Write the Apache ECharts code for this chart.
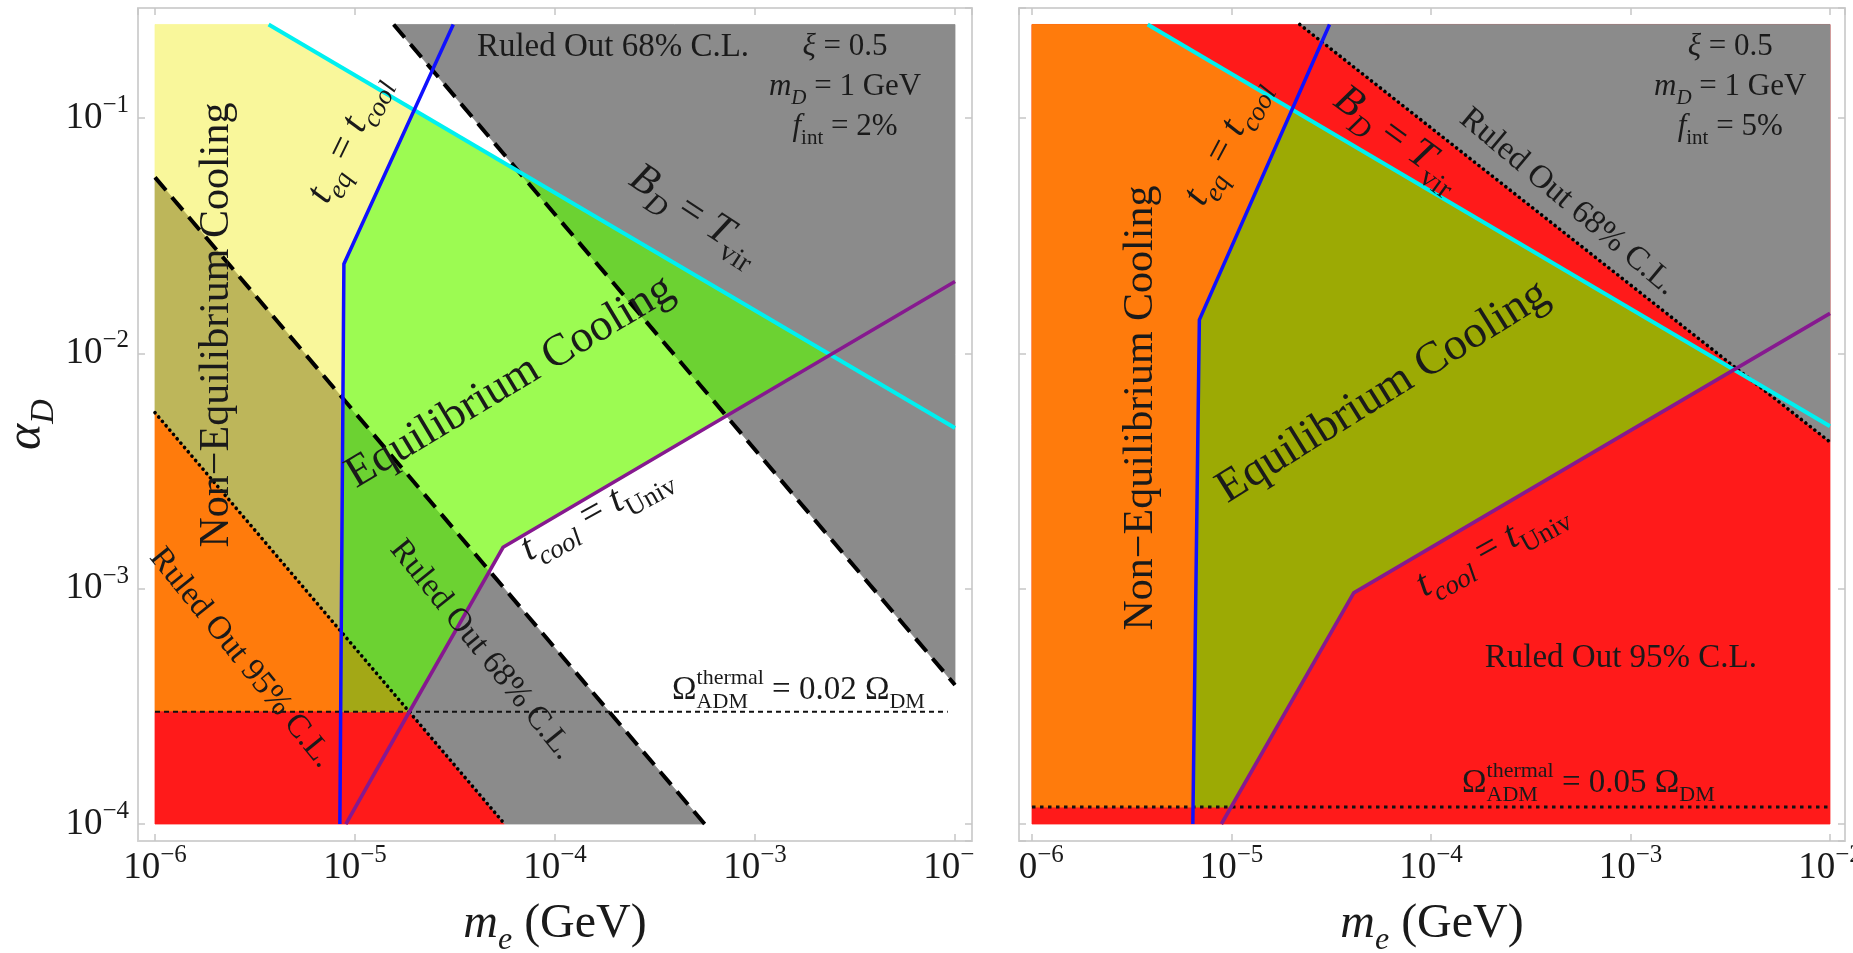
<!DOCTYPE html>
<html><head><meta charset="utf-8">
<script src="https://cdn.jsdelivr.net/npm/echarts@6/dist/echarts.min.js"></script>
<style>html,body{margin:0;padding:0;background:#fff}#c{width:1853px;height:953px}</style>
</head><body><div id="c"></div>
<script>
// ---------------- DATA (x = m_e in GeV, y = alpha_D) ----------------
const xTickExponents = [-6, -5, -4, -3, -2];
const yTickExponents = [-4, -3, -2, -1];

// Left panel, f_int = 2%
const L_cyan      = [[3.7e-6, 0.25], [1e-2, 4.82e-3]];
const L_blue      = [[8.4e-6, 1e-4], [8.8e-6, 0.024], [3.1e-5, 0.25]];
const L_purple    = [[9.0e-6, 1e-4], [1.87e-5, 3e-4], [5.5e-5, 1.5e-3], [1e-2, 0.0202]];
const L_cl95      = [[1e-6, 5.6e-3], [5.6e-5, 1e-4]];
const L_cl68low   = [[1e-6, 0.056], [5.6e-4, 1e-4]];
const L_cl68high  = [[1.56e-5, 0.25], [1e-2, 3.9e-4]];
const L_omega     = [[1e-6, 3e-4], [9.2e-3, 3e-4]];

const L_yellow      = [[1e-6, 0.25], [3.7e-6, 0.25], [1.98e-5, 0.108], [8.8e-6, 0.024], [8.7e-6, 6.43e-3], [1e-6, 0.056]];
const L_khaki       = [[1e-6, 0.056], [8.7e-6, 6.43e-3], [8.53e-6, 6.56e-4], [1e-6, 5.6e-3]];
const L_orange      = [[1e-6, 5.6e-3], [8.53e-6, 6.56e-4], [8.48e-6, 3e-4], [1e-6, 3e-4]];
const L_red         = [[1e-6, 3e-4], [1.87e-5, 3e-4], [5.6e-5, 1e-4], [1e-6, 1e-4]];
const L_olive       = [[8.48e-6, 3e-4], [8.53e-6, 6.56e-4], [1.87e-5, 3e-4]];
const L_greenMidLow = [[8.53e-6, 6.56e-4], [8.7e-6, 6.43e-3], [4.69e-5, 1.19e-3], [1.87e-5, 3e-4]];
const L_greenLight  = [[8.7e-6, 6.43e-3], [8.8e-6, 0.024], [1.98e-5, 0.108], [6.55e-5, 0.0596], [7.19e-4, 5.42e-3], [5.5e-5, 1.5e-3], [4.69e-5, 1.19e-3]];
const L_grayHigh    = [[1.56e-5, 0.25], [1e-2, 0.25], [1e-2, 3.9e-4]];
const L_greenMidHigh= [[6.55e-5, 0.0596], [2.38e-3, 9.87e-3], [7.19e-4, 5.42e-3]];
const L_grayLow     = [[1.87e-5, 3e-4], [4.69e-5, 1.19e-3], [5.6e-4, 1e-4], [5.6e-5, 1e-4]];

// Right panel, f_int = 5%
const R_cyan   = [[3.8e-6, 0.25], [1e-2, 4.9e-3]];
const R_blue   = [[6.4e-6, 1e-4], [6.9e-6, 0.0139], [3.1e-5, 0.25]];
const R_purple = [[8.9e-6, 1e-4], [4.1e-5, 9.6e-4], [1e-2, 0.0148]];
const R_cl68   = [[2.2e-5, 0.25], [1e-2, 4.2e-3]];
const R_omega  = [[1e-6, 1.18e-4], [1e-2, 1.18e-4]];

const R_red    = [[1e-6, 1e-4], [1e-2, 1e-4], [1e-2, 0.25], [1e-6, 0.25]];
const R_gray   = [[2.2e-5, 0.25], [1e-2, 0.25], [1e-2, 4.2e-3]];
const R_orange = [[1e-6, 0.25], [3.8e-6, 0.25], [2.01e-5, 0.109], [6.9e-6, 0.0139], [6.41e-6, 1.18e-4], [1e-6, 1.18e-4]];
const R_olive  = [[6.41e-6, 1.18e-4], [6.9e-6, 0.0139], [2.01e-5, 0.109], [3.25e-3, 8.55e-3], [4.1e-5, 9.6e-4], [9.95e-6, 1.18e-4]];

// Text labels (anchors in data coordinates)
const leftLabels = [
  {text: '{r|Ruled Out 68% C.L.}', at: [1.95e-4, 0.2], rot: 0, size: 33},
  {text: '{i|ξ}{r| = 0.5}', at: [2.82e-3, 0.2], rot: 0, size: 31},
  {text: '{i|m}{si|D}{r| = 1 GeV}', at: [2.82e-3, 0.1355], rot: 0, size: 31},
  {text: '{i|f}{sr|int}{r| = 2%}', at: [2.82e-3, 0.0916], rot: 0, size: 31},
  {text: '{i|B}{si|D}{r| = }{i|T}{sr|vir}', at: [5.0e-4, 0.039], rot: -33, size: 42},
  {text: '{r|Equilibrium Cooling}', at: [5.96e-5, 7.55e-3], rot: 31, size: 45},
  {text: '{r|Non−Equilibrium Cooling}', at: [2.04e-6, 0.0132], rot: 90, size: 42},
  {text: '{i|t}{si|eq}{r| = }{i|t}{si|cool}', at: [9.2e-6, 0.0815], rot: 64, size: 40},
  {text: '{i|t}{si|cool}{r| = }{i|t}{sr|Univ}', at: [1.6e-4, 2.12e-3], rot: 29, size: 40},
  {text: '{r|Ruled Out 68% C.L.}', at: [4.3e-5, 5.5e-4], rot: -51, size: 33},
  {text: '{r|Ruled Out 95% C.L.}', at: [2.7e-6, 5.08e-4], rot: -51, size: 33}
];
const rightLabels = [
  {text: '{i|ξ}{r| = 0.5}', at: [3.16e-3, 0.2], rot: 0, size: 31},
  {text: '{i|m}{si|D}{r| = 1 GeV}', at: [3.16e-3, 0.1355], rot: 0, size: 31},
  {text: '{i|f}{sr|int}{r| = 5%}', at: [3.16e-3, 0.0916], rot: 0, size: 31},
  {text: '{i|B}{si|D}{r| = }{i|T}{sr|vir}', at: [6.8e-5, 0.0822], rot: -36, size: 42},
  {text: '{r|Ruled Out 68% C.L.}', at: [4.87e-4, 0.044], rot: -40, size: 33},
  {text: '{i|t}{si|eq}{r| = }{i|t}{si|cool}', at: [9.38e-6, 0.079], rot: 62, size: 40},
  {text: '{r|Equilibrium Cooling}', at: [5.74e-5, 6.86e-3], rot: 32, size: 46},
  {text: '{r|Non−Equilibrium Cooling}', at: [3.51e-6, 5.86e-3], rot: 90, size: 42},
  {text: '{i|t}{si|cool}{r| = }{i|t}{sr|Univ}', at: [2.0e-4, 1.49e-3], rot: 29, size: 40},
  {text: '{r|Ruled Out 95% C.L.}', at: [8.95e-4, 5.08e-4], rot: 0, size: 33}
];
const omegaLabels = [
  {grid: 0, value: '0.02', at: [3.85e-4, 3.71e-4], size: 33},
  {grid: 1, value: '0.05', at: [1.43e-4, 1.49e-4], size: 33}
];

// ---------------- STYLE / LAYOUT ----------------
const SERIF = "'Liberation Serif','DejaVu Serif','Times New Roman',serif";
const TXT = '#1a1a1a';
const C = {
  yellow: '#f9f79b', khaki: '#bdb65a', orange: '#ff7b0c', red: '#ff1a1a',
  olive: '#a3a816', oliveR: '#9caa04', green: '#9cfb52', greenMid: '#6cd232',
  gray: '#8b8b8b', cyan: '#00f0f0', blue: '#1010ff', purple: '#86198f'
};

function richFor(S, color) {
  const sub = Math.round(S * 0.68);
  const main = Math.round(S * 1.4);
  const base = {fontFamily: SERIF, fill: color, color: color};
  return {
    r:  Object.assign({}, base, {fontSize: S, lineHeight: main}),
    i:  Object.assign({}, base, {fontSize: S, lineHeight: main, fontStyle: 'italic'}),
    g:  Object.assign({}, base, {fontSize: S, lineHeight: main, fill: 'rgba(0,0,0,0)', color: 'rgba(0,0,0,0)'}),
    si: Object.assign({}, base, {fontSize: sub, lineHeight: sub, fontStyle: 'italic', verticalAlign: 'bottom'}),
    sr: Object.assign({}, base, {fontSize: sub, lineHeight: sub, verticalAlign: 'bottom'}),
    sp: Object.assign({}, base, {fontSize: sub, lineHeight: sub, verticalAlign: 'top'})
  };
}

function tickFormatter(list) {
  return function (v) {
    const e = Math.log10(v), r = Math.round(e);
    if (Math.abs(e - r) > 1e-6 || list.indexOf(r) < 0) return '';
    return '{b|10}{s|' + (r < 0 ? '−' : '') + Math.abs(r) + '}';
  };
}
const tickRich = {
  b: {fontFamily: SERIF, fontSize: 37, lineHeight: 50, color: TXT},
  s: {fontFamily: SERIF, fontSize: 25, lineHeight: 25, verticalAlign: 'top', color: TXT}
};

const X_RANGE = [[-6.085, -1.915], [-6.0652, -1.9248]];
const Y_RANGE = [-4.0722, -0.532];

function makeAxis(kind, gridIndex, position, range, showLabels, list) {
  return {
    type: 'log', logBase: 10, gridIndex: gridIndex, position: position,
    min: Math.pow(10, range[0]), max: Math.pow(10, range[1]),
    axisLine: {show: true, onZero: false, lineStyle: {color: '#d2d2d2', width: 2}},
    axisTick: {show: true, inside: true, length: 7, lineStyle: {color: '#c6c6c6', width: 1.5}},
    splitLine: {show: false}, minorTick: {show: false}, minorSplitLine: {show: false},
    axisLabel: {show: showLabels, interval: 0, showMinLabel: false, showMaxLabel: false,
      formatter: tickFormatter(list), rich: tickRich,
      margin: kind === 'x' ? 2 : 9}
  };
}

const xAxes = [
  makeAxis('x', 0, 'bottom', X_RANGE[0], true, xTickExponents),
  makeAxis('x', 0, 'top', X_RANGE[0], false, xTickExponents),
  makeAxis('x', 1, 'bottom', X_RANGE[1], true, xTickExponents),
  makeAxis('x', 1, 'top', X_RANGE[1], false, xTickExponents)
];
function xName() {
  return {
    name: '{i|m}{s|e}{r| (GeV)}', nameLocation: 'middle', nameGap: 50,
    nameTextStyle: {fontFamily: SERIF, fontSize: 48, color: TXT, rich: {
      i: {fontFamily: SERIF, fontSize: 48, lineHeight: 66, fontStyle: 'italic', color: TXT},
      r: {fontFamily: SERIF, fontSize: 48, lineHeight: 66, color: TXT},
      s: {fontFamily: SERIF, fontSize: 32, lineHeight: 32, fontStyle: 'italic', verticalAlign: 'bottom', color: TXT}
    }}
  };
}
Object.assign(xAxes[0], xName());
Object.assign(xAxes[2], xName());

const yAxes = [
  makeAxis('y', 0, 'left', Y_RANGE, true, yTickExponents),
  makeAxis('y', 0, 'right', Y_RANGE, false, yTickExponents),
  makeAxis('y', 1, 'left', Y_RANGE, false, yTickExponents),
  makeAxis('y', 1, 'right', Y_RANGE, false, yTickExponents)
];
Object.assign(yAxes[0], {
  name: '{i|α}{s|D}', nameLocation: 'middle', nameGap: 72, nameRotate: 90,
  nameTextStyle: {fontFamily: SERIF, fontSize: 50, color: TXT, rich: {
    i: {fontFamily: SERIF, fontSize: 50, lineHeight: 70, fontStyle: 'italic', color: TXT},
    s: {fontFamily: SERIF, fontSize: 34, lineHeight: 34, fontStyle: 'italic', verticalAlign: 'bottom', color: TXT}
  }}
});

let zc = 1;
function poly(pts, color, g) {
  return {
    type: 'custom', xAxisIndex: g * 2, yAxisIndex: g * 2, data: pts, silent: true,
    animation: false, z: zc++, clip: false,
    renderItem: function (params, api) {
      if (params.dataIndex !== 0) return null;
      const points = pts.map(function (p) { return api.coord(p); });
      return {type: 'polygon', shape: {points: points}, style: {fill: color, stroke: color, lineWidth: 0.8}};
    }
  };
}
function line(pts, color, width, type, cap, g) {
  return {
    type: 'line', xAxisIndex: g * 2, yAxisIndex: g * 2, data: pts, showSymbol: false, symbol: 'none',
    silent: true, animation: false, z: 50, clip: false,
    lineStyle: {color: color, width: width, type: type, cap: cap || 'butt', join: 'miter'}
  };
}

const DASH = [17, 9], DOT = [0.1, 5.6], SHORT = [5, 4];
const series = [
  poly(L_yellow, C.yellow, 0), poly(L_khaki, C.khaki, 0), poly(L_orange, C.orange, 0),
  poly(L_red, C.red, 0), poly(L_olive, C.olive, 0), poly(L_greenMidLow, C.greenMid, 0),
  poly(L_greenLight, C.green, 0), poly(L_grayHigh, C.gray, 0), poly(L_greenMidHigh, C.greenMid, 0),
  poly(L_grayLow, C.gray, 0),
  poly(R_red, C.red, 1), poly(R_gray, C.gray, 1), poly(R_orange, C.orange, 1), poly(R_olive, C.oliveR, 1),

  line(L_omega, '#111', 2.2, SHORT, 'butt', 0),
  line(L_cl95, '#000', 3.6, DOT, 'round', 0),
  line(L_cl68low, '#000', 4, DASH, 'butt', 0),
  line(L_cl68high, '#000', 4, DASH, 'butt', 0),
  line(L_cyan, C.cyan, 4, 'solid', 'butt', 0),
  line(L_purple, C.purple, 3.6, 'solid', 'butt', 0),
  line(L_blue, C.blue, 3.5, 'solid', 'butt', 0),

  line(R_omega, '#111', 3, [3.5, 4.5], 'butt', 1),
  line(R_cl68, '#000', 3.6, DOT, 'round', 1),
  line(R_cyan, C.cyan, 4, 'solid', 'butt', 1),
  line(R_purple, C.purple, 3.6, 'solid', 'butt', 1),
  line(R_blue, C.blue, 3.5, 'solid', 'butt', 1)
];

const option = {
  backgroundColor: '#ffffff',
  animation: false,
  grid: [
    {left: 138, top: 8, width: 834, height: 833, containLabel: false, outerBoundsMode: 'none'},
    {left: 1019, top: 8, width: 826, height: 833, containLabel: false, outerBoundsMode: 'none'}
  ],
  xAxis: xAxes,
  yAxis: yAxes,
  series: series
};

const chart = echarts.init(document.getElementById('c'), null, {renderer: 'canvas'});
chart.setOption(option);

// annotations positioned through the axes' scales
function toPx(g, p) { return chart.convertToPixel({xAxisIndex: g * 2, yAxisIndex: g * 2}, p); }
const graphics = [];
[[leftLabels, 0], [rightLabels, 1]].forEach(function (pair) {
  pair[0].forEach(function (lb) {
    const p = toPx(pair[1], lb.at);
    graphics.push({
      type: 'text', x: p[0], y: p[1], rotation: (lb.rot || 0) * Math.PI / 180, z: 100, silent: true,
      style: {text: lb.text, rich: richFor(lb.size, TXT), fontFamily: SERIF, fontSize: lb.size,
        fill: TXT, align: 'center', verticalAlign: 'middle'}
    });
  });
});
omegaLabels.forEach(function (o) {
  const p = toPx(o.grid, o.at);
  graphics.push({
    type: 'text', x: p[0], y: p[1], z: 100, silent: true,
    style: {text: '{r|Ω}{sp|thermal}{r| = ' + o.value + ' Ω}{sr|DM}', rich: richFor(o.size, TXT),
      fontFamily: SERIF, fontSize: o.size, fill: TXT, align: 'left', verticalAlign: 'middle'}
  });
  graphics.push({
    type: 'text', x: p[0], y: p[1], z: 100, silent: true,
    style: {text: '{g|Ω}{sr|ADM}', rich: richFor(o.size, TXT),
      fontFamily: SERIF, fontSize: o.size, fill: TXT, align: 'left', verticalAlign: 'middle'}
  });
});
// gap between the two panels (the original figure is cropped there)
graphics.push({type: 'rect', z: 120, silent: true, shape: {x: 975, y: 843, width: 43, height: 110}, style: {fill: '#ffffff'}});
chart.setOption({graphic: graphics});
</script>
</body></html>
